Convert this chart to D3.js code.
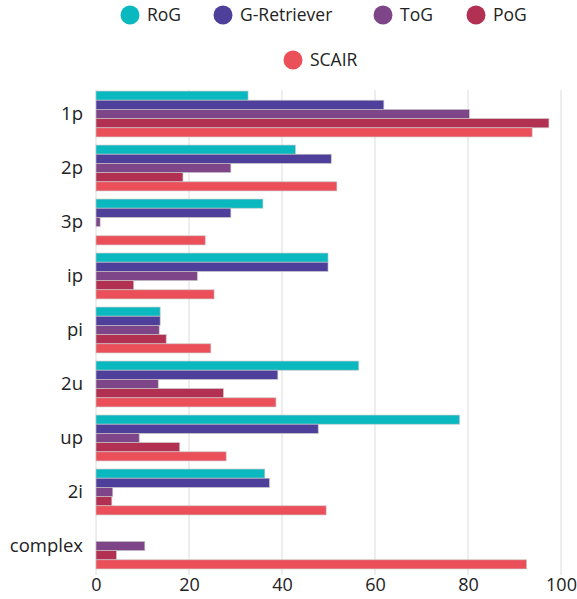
<!DOCTYPE html>
<html>
<head>
<meta charset="utf-8">
<script src="https://cdn.jsdelivr.net/npm/d3@7"></script>
<style>
  body { margin: 0; background: #fff; }
  svg text { font-family: "Open Sans", "Noto Sans", sans-serif; fill: #222; }
</style>
</head>
<body>
<svg width="577" height="599"></svg>
<script>
const categories = ['1p', '2p', '3p', 'ip', 'pi', '2u', 'up', '2i', 'complex'];
const methods = ['RoG', 'G-Retriever', 'ToG', 'PoG', 'SCAIR'];

const RoG = [32.7, 42.9, 35.9, 49.9, 13.8, 56.5, 78.2, 36.3, null];
const GRetriever = [61.9, 50.6, 29.0, 49.9, 13.8, 39.1, 47.8, 37.3, null];
const ToG = [80.3, 29.0, 0.9, 21.8, 13.6, 13.4, 9.3, 3.6, 10.5];
const PoG = [97.4, 18.7, null, 8.1, 15.1, 27.4, 18.0, 3.4, 4.4];
const SCAIR = [93.8, 51.8, 23.5, 25.4, 24.7, 38.7, 28.0, 49.5, 92.6];

const xTicks = [0, 20, 40, 60, 80, 100];
const colorList = ['#0ab9bf', '#4e3f9b', '#7e4689', '#b23052', '#ea4f5a'];

const series = [RoG, GRetriever, ToG, PoG, SCAIR];
const rows = [];
categories.forEach((c, i) => {
  methods.forEach((m, j) => {
    if (series[j][i] != null) rows.push({cat: c, method: m, value: series[j][i]});
  });
});

const margin = {top: 87, right: 16, bottom: 26, left: 96},
      width = 577 - margin.left - margin.right,
      height = 599 - margin.top - margin.bottom;

const svg = d3.select('svg');
const g = svg.append('g')
    .attr('transform', 'translate(' + margin.left + ',' + margin.top + ')');

//--------------SCALES---------------------------------------
const x = d3.scaleLinear().domain([0, 100]).range([0, 465]);
const y = d3.scaleBand().domain(categories).range([0, 486]).paddingInner(0.15).paddingOuter(0.075);
const yInner = d3.scaleBand().domain(methods).range([0, y.bandwidth()]);
const color = d3.scaleOrdinal().domain(methods).range(colorList);

//--------------GRID----------------------------------------
g.append('g')
  .selectAll('line')
  .data(xTicks)
  .join('line')
    .attr('x1', d => x(d)).attr('x2', d => x(d))
    .attr('y1', 3).attr('y2', 488)
    .attr('stroke', '#dcdcdc')
    .attr('stroke-width', 1);

//--------------BARS----------------------------------------
g.append('g')
  .selectAll('rect')
  .data(rows)
  .join('rect')
    .attr('x', x(0))
    .attr('y', d => y(d.cat) + yInner(d.method))
    .attr('width', d => x(d.value) - x(0))
    .attr('height', yInner.bandwidth())
    .attr('fill', d => color(d.method))
    .attr('stroke', 'rgba(200,200,200,0.8)')
    .attr('stroke-width', 0.8);

//--------------AXES----------------------------------------
const xAxis = g.append('g')
  .attr('transform', 'translate(0,' + 486 + ')')
  .call(d3.axisBottom(x).tickValues(xTicks).tickSize(0).tickPadding(5));
xAxis.select('.domain').remove();
xAxis.selectAll('text').style('font-size', '18px').style('fill', '#222');

const yAxis = g.append('g')
  .call(d3.axisLeft(y).tickSize(0).tickPadding(13));
yAxis.select('.domain').remove();
yAxis.selectAll('text').style('font-size', '18.5px').style('fill', '#222');

//--------------LEGEND----------------------------------------
const legendPos = [
  {cx: 130, cy: 15}, {cx: 223, cy: 15}, {cx: 383, cy: 15}, {cx: 476, cy: 15},
  {cx: 293, cy: 60}
];
const legend = svg.append('g')
  .selectAll('g')
  .data(methods)
  .join('g')
    .attr('transform', (d, i) => 'translate(' + legendPos[i].cx + ',' + legendPos[i].cy + ')');
legend.append('circle')
  .attr('r', 9.5)
  .attr('fill', d => color(d));
legend.append('text')
  .attr('x', 17)
  .attr('dy', '0.35em')
  .style('font-size', '17.5px')
  .text(d => d);
</script>
</body>
</html>
